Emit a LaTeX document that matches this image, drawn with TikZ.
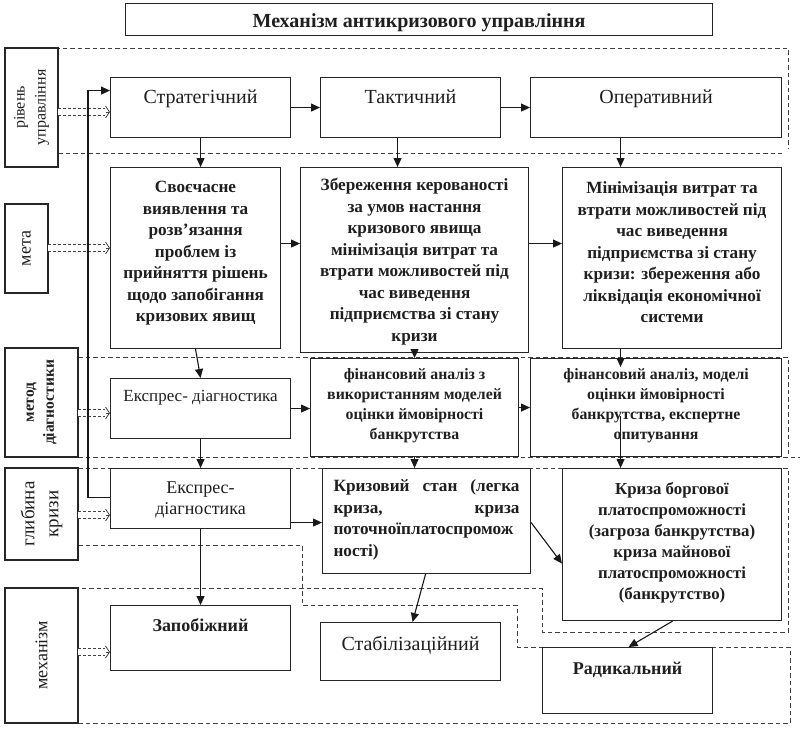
\documentclass[tikz,border=0pt]{standalone}
\usepackage{fontspec}
\setmainfont{Liberation Serif}
\usetikzlibrary{arrows.meta,calc}
\newcommand\bxt[4]{\parbox[c][#2pt][t]{#1pt}{\centering\rule{0pt}{#3pt}#4\par}}
\begin{document}
\begin{tikzpicture}[x=1pt,y=-1pt,
  box/.style={draw=black!85, line width=1.1pt, inner sep=0pt, anchor=north west, text=black!88},
  lbox/.style={draw=black!85, line width=1.1pt, inner sep=0pt, align=center, rotate=90, text=black!88},
  arr/.style={draw=black!90, line width=1.1pt, -{Triangle[length=9pt,width=8pt]}},
  dsh/.style={draw=black!75, line width=0.9pt, dash pattern=on 4.5pt off 3pt},
  dbl/.style={draw=black!75, line width=0.7pt, double=white, double distance=6pt, dash pattern=on 3pt off 2pt, shorten >=5pt},
  dbltip/.style={draw=black!75, line width=0.8pt, -{Straight Barb[length=4pt,width=12pt]}},
  flvl/.style={font=\fontsize{20}{24}\selectfont},
  fgoal/.style={font=\fontsize{17.2}{21.5}\selectfont\bfseries},
  ffin/.style={font=\fontsize{15.8}{20}\selectfont\bfseries},
]
\fill[white] (0,0) rectangle (800,742);
\useasboundingbox (0,0) rectangle (800,742);

% dashed regions
\draw[dsh] (55,48) -- (788,48) -- (788,148);
\draw[dsh] (58,153) -- (782,153);
\draw[dsh] (78,357) -- (788,357) -- (788,457);
\draw[dsh] (78,457) -- (800,457);
\draw[dsh] (78,468) -- (788,468) -- (788,632) -- (542,632) -- (542,588) -- (40,588);
\draw[dsh] (78,545) -- (302,545) -- (302,605) -- (517,605) -- (517,647) -- (790,647) -- (790,723) -- (78,723);

% title
\node[box, font=\fontsize{20}{24}\selectfont\bfseries] (title) at (125,3) {\bxt{587}{32}{24}{Механізм антикризового управління}};

% side labels
\node[lbox, minimum width=119pt, minimum height=53pt, font=\fontsize{16}{21}\selectfont] (l1) at (31.5,107.5) {рівень\\управління};
\node[lbox, minimum width=89pt, minimum height=43pt, font=\fontsize{18}{22}\selectfont] (l2) at (26.5,248.5) {мета};
\node[lbox, minimum width=109pt, minimum height=73pt, font=\fontsize{15.5}{20}\selectfont\bfseries] (l3) at (41.5,402.5) {метод\\діагностики};
\node[lbox, minimum width=92pt, minimum height=73pt, font=\fontsize{19}{24}\selectfont] (l4) at (41.5,514) {глибина\\кризи};
\node[lbox, minimum width=135pt, minimum height=73pt, font=\fontsize{18}{22}\selectfont] (l5) at (41.5,655.5) {механізм};

% level row
\node[box, flvl] (strat) at (110,77) {\bxt{180}{60}{26}{Стратегічний}};
\node[box, flvl] (takt) at (320,77) {\bxt{180}{60}{26}{Тактичний}};
\node[box, flvl] (oper) at (530,77) {\bxt{251}{60}{26}{Оперативний}};

% goal row
\node[box, fgoal] (goal1) at (110,167) {\bxt{170}{181}{25}{Своєчасне\\виявлення та\\розв’язання\\проблем із\\прийняття рішень\\щодо запобігання\\кризових явищ}};
\node[box, fgoal] (goal2) at (300,167) {\bxt{228}{185}{23}{Збереження керованості\\за умов настання\\кризового явища\\мінімізація витрат та\\втрати можливостей під\\час виведення\\підприємства зі стану\\кризи}};
\node[box, fgoal] (goal3) at (562,167) {\bxt{219}{181}{26}{Мінімізація витрат та\\втрати можливостей під\\час виведення\\підприємства зі стану\\кризи: збереження або\\ліквідація економічної\\системи}};

% method row
\node[box, font=\fontsize{17}{20}\selectfont] (ekspr1) at (110,378) {\bxt{180}{60}{23}{Експрес- діагностика}};
\node[box, ffin] (fin1) at (310,358) {\bxt{208}{98}{21}{фінансовий аналіз з\\використанням моделей\\оцінки ймовірності\\банкрутства}};
\node[box, ffin] (fin2) at (530,358) {\bxt{251}{98}{21}{фінансовий аналіз, моделі\\оцінки ймовірності\\банкрутства, експертне\\опитування}};

% depth row
\node[box, font=\fontsize{18}{20.5}\selectfont] (ekspr2) at (110,468) {\bxt{180}{60}{25}{Експрес-\\діагностика}};
\node[box, font=\fontsize{17.2}{21.7}\selectfont\bfseries] (kryzst) at (322,468) {\parbox[c][105pt][t]{208pt}{\raggedright\rule{0pt}{23pt}\hspace*{11pt}\makebox[186pt][s]{Кризовий стан (легка}\\\hspace*{11pt}\makebox[186pt][s]{криза, криза}\\\hspace*{11pt}поточноїплатоспромож\\\hspace*{11pt}ності)\par}};
\node[box, font=\fontsize{16.8}{21}\selectfont\bfseries] (kryza) at (562,468) {\bxt{219}{152}{26}{Криза боргової\\платоспроможності\\(загроза банкрутства)\\криза майнової\\платоспроможності\\(банкрутство)}};

% mechanism row
\node[box, font=\fontsize{18}{22}\selectfont\bfseries] (zapob) at (110,605) {\bxt{180}{65}{26}{Запобіжний}};
\node[box, font=\fontsize{20}{24}\selectfont] (stab) at (320,622) {\bxt{180}{58}{28}{Стабілізаційний}};
\node[box, font=\fontsize{18}{22}\selectfont\bfseries] (rad) at (542,647) {\bxt{170}{66}{27}{Радикальний}};

% double dashed arrows from labels
\coordinate (d1) at (58,112);
\coordinate (d2) at (48,248);
\coordinate (d3) at (78,413);
\coordinate (d4) at (78,515);
\coordinate (d5) at (78,652);
\foreach \d/\t in {d1/strat, d2/goal1, d3/ekspr1, d4/ekspr2, d5/zapob}{
  \draw[dbl] (\d) -- (\d -| \t.west);
  \draw[dbltip] ($(\d -| \t.west)+(-4,0)$) -- (\d -| \t.west);
}

% connectors
\draw[arr] (strat.east) -- (takt.west);
\draw[arr] (takt.east) -- (oper.west);
\draw[arr] (strat.south) -- (strat.south |- goal1.north);
\draw[arr] ($(takt.south)+(-13,0)$) -- ($(takt.south |- goal2.north)+(-13,0)$);
\draw[arr] ($(oper.south)+(-35.5,0)$) -- ($(oper.south |- goal3.north)+(-35.5,0)$);
\draw[arr] ($(goal1.east)+(0,-14.5)$) -- ($(goal1.east -| goal2.west)+(0,-14.5)$);
\draw[arr] ($(goal2.east)+(0,-16.5)$) -- ($(goal2.east -| goal3.west)+(0,-16.5)$);
\draw[arr] (goal1.south) -- (ekspr1.north);
\draw[arr] (ekspr1.east) -- (ekspr1.east -| fin1.west);
\draw[arr] (fin1.east) -- (fin1.east -| fin2.west);
\draw[arr] (goal2.south) -- (goal2.south |- fin1.north);
\draw[arr] ($(goal3.south)+(-51.5,0)$) -- ($(goal3.south |- fin2.north)+(-51.5,9)$);
\draw[arr] ($(fin2.south)+(-35.5,-41)$) -- ($(fin2.south |- kryza.north)+(-35.5,0)$);
\draw[arr] (ekspr1.south) -- (ekspr2.north);
\draw[arr] (fin1.south) -- (fin1.south |- kryzst.north);
\draw[arr] ($(ekspr2.east)+(0,24)$) -- ($(ekspr2.east -| kryzst.west)+(0,24)$);
\draw[arr] ($(kryzst.east)+(0,1.5)$) -- ($(kryza.west)+(0,19)$);
\draw[arr] (ekspr2.south) -- (zapob.north);
\draw[arr] ($(kryzst.south)+(-1,0)$) -- ($(stab.north)+(2,0)$);
\draw[arr] ($(kryza.south)+(0.5,0)$) -- ($(rad.north)+(1,0)$);
\draw[arr] ($(ekspr2.west)+(0,-1)$) -- ++(-22,0) |- ($(strat.west)+(0,-17)$);
\end{tikzpicture}
\end{document}
